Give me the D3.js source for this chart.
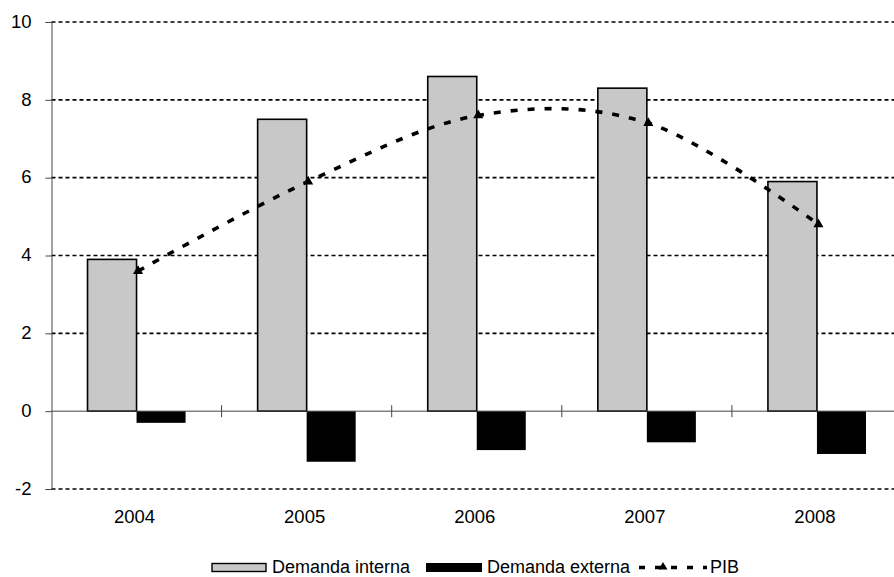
<!DOCTYPE html>
<html>
<head>
<meta charset="utf-8">
<script src="https://cdn.jsdelivr.net/npm/d3@7/dist/d3.min.js"></script>
<style>
  html, body { margin: 0; padding: 0; background: #fff; }
  svg { display: block; font-family: "Liberation Sans", Arial, sans-serif; }
</style>
</head>
<body>
<svg id="chart" width="894" height="577"></svg>
<script>
// Contribuciones al crecimiento del PIB (puntos porcentuales)
const years = ["2004", "2005", "2006", "2007", "2008"];
const demandaInterna = [3.9, 7.5, 8.6, 8.3, 5.9];
const demandaExterna = [-0.3, -1.3, -1.0, -0.8, -1.1];
const pib = [3.6, 5.9, 7.6, 7.4, 4.8];
const yTicks = [-2, 0, 2, 4, 6, 8, 10];
const seriesNames = ["Demanda interna", "Demanda externa", "PIB"];

const svg = d3.select("#chart");
const W = 894;

const plotLeft = 51.5, plotRight = 902, plotTop = 22, plotBottom = 489;

const x = d3.scaleBand().domain(years).range([plotLeft, plotRight]).paddingInner(0).paddingOuter(0);
const xSub = d3.scaleBand().domain(["interna", "externa"]).range([0, x.bandwidth()])
  .paddingInner(0).paddingOuter(0.735);
const y = d3.scaleLinear().domain([-2, 10]).range([plotBottom, plotTop]);

// gridlines (dotted), every tick except zero
svg.append("g").selectAll("line")
  .data(yTicks.filter(d => d !== 0))
  .join("line")
  .attr("x1", plotLeft).attr("x2", W)
  .attr("y1", d => y(d)).attr("y2", d => y(d))
  .attr("stroke", "#000").attr("stroke-width", 1.6)
  .attr("stroke-dasharray", "4 3");

// bars
const rows = years.map((yr, i) => ({ yr, interna: demandaInterna[i], externa: demandaExterna[i] }));
const groups = svg.append("g").selectAll("g")
  .data(rows).join("g")
  .attr("transform", d => `translate(${x(d.yr)},0)`);

groups.append("rect")
  .attr("x", xSub("interna"))
  .attr("width", xSub.bandwidth())
  .attr("y", d => y(Math.max(0, d.interna)))
  .attr("height", d => Math.abs(y(d.interna) - y(0)))
  .attr("fill", "#c8c8c8").attr("stroke", "#000").attr("stroke-width", 1.6);

groups.append("rect")
  .attr("x", xSub("externa"))
  .attr("width", xSub.bandwidth())
  .attr("y", d => y(Math.max(0, d.externa)))
  .attr("height", d => Math.abs(y(d.externa) - y(0)))
  .attr("fill", "#000");

// y axis (plain hyphen for negative labels)
const yAxis = svg.append("g").attr("transform", `translate(${plotLeft},0)`)
  .call(d3.axisLeft(y).tickValues(yTicks).tickSize(6).tickPadding(14).tickFormat(d => String(d)));
yAxis.select(".domain").attr("stroke", "#444").attr("stroke-width", 1);
yAxis.selectAll(".tick line").attr("stroke", "#444");
yAxis.selectAll(".tick text")
  .attr("font-size", "18.5px").attr("fill", "#000")
  .attr("font-family", "'Liberation Sans', Arial, sans-serif")
  .attr("dy", "0.28em");

// zero line with category separators
svg.append("line")
  .attr("x1", plotLeft).attr("x2", W).attr("y1", y(0)).attr("y2", y(0))
  .attr("stroke", "#444").attr("stroke-width", 1);
svg.append("g").selectAll("line")
  .data(years.slice(1))
  .join("line")
  .attr("x1", d => x(d)).attr("x2", d => x(d))
  .attr("y1", y(0) - 6).attr("y2", y(0) + 6)
  .attr("stroke", "#444").attr("stroke-width", 1);

// category labels
svg.append("g").selectAll("text")
  .data(years).join("text")
  .attr("x", d => x(d) + x.bandwidth() / 2 - 2)
  .attr("y", 523)
  .attr("text-anchor", "middle")
  .attr("font-size", "18.5px")
  .text(d => d);

// PIB smoothed dashed line
const pts = years.map((yr, i) => [x(yr) + x.bandwidth() / 2 + 1.5, y(pib[i])]);
svg.append("path")
  .attr("d", d3.line().curve(d3.curveCardinal.tension(0))(pts))
  .attr("fill", "none").attr("stroke", "#000")
  .attr("stroke-width", 3.6).attr("stroke-dasharray", "7 10");

const tri = d3.symbol().type(d3.symbolTriangle).size(44);
svg.append("g").selectAll("path")
  .data(pts).join("path")
  .attr("transform", d => `translate(${d[0]},${d[1]})`)
  .attr("d", tri).attr("fill", "#000");

// legend
const lg = svg.append("g");
const legY = 567.5, legText = 573;
lg.append("rect").attr("x", 212).attr("y", legY - 4).attr("width", 54).attr("height", 8)
  .attr("fill", "#c8c8c8").attr("stroke", "#000").attr("stroke-width", 1.4);
lg.append("text").attr("x", 272).attr("y", legText).attr("font-size", "18px").text(seriesNames[0]);
lg.append("rect").attr("x", 426).attr("y", legY - 4.5).attr("width", 56).attr("height", 9)
  .attr("fill", "#000");
lg.append("text").attr("x", 487).attr("y", legText).attr("font-size", "18px").text(seriesNames[1]);
lg.append("line").attr("x1", 639).attr("x2", 707).attr("y1", legY).attr("y2", legY)
  .attr("stroke", "#000").attr("stroke-width", 3.6).attr("stroke-dasharray", "6 10");
lg.append("path").attr("transform", `translate(663,${legY - 0.5})`)
  .attr("d", d3.symbol().type(d3.symbolTriangle).size(34)).attr("fill", "#000");
lg.append("text").attr("x", 710).attr("y", legText).attr("font-size", "18px").text(seriesNames[2]);
</script>
</body>
</html>
